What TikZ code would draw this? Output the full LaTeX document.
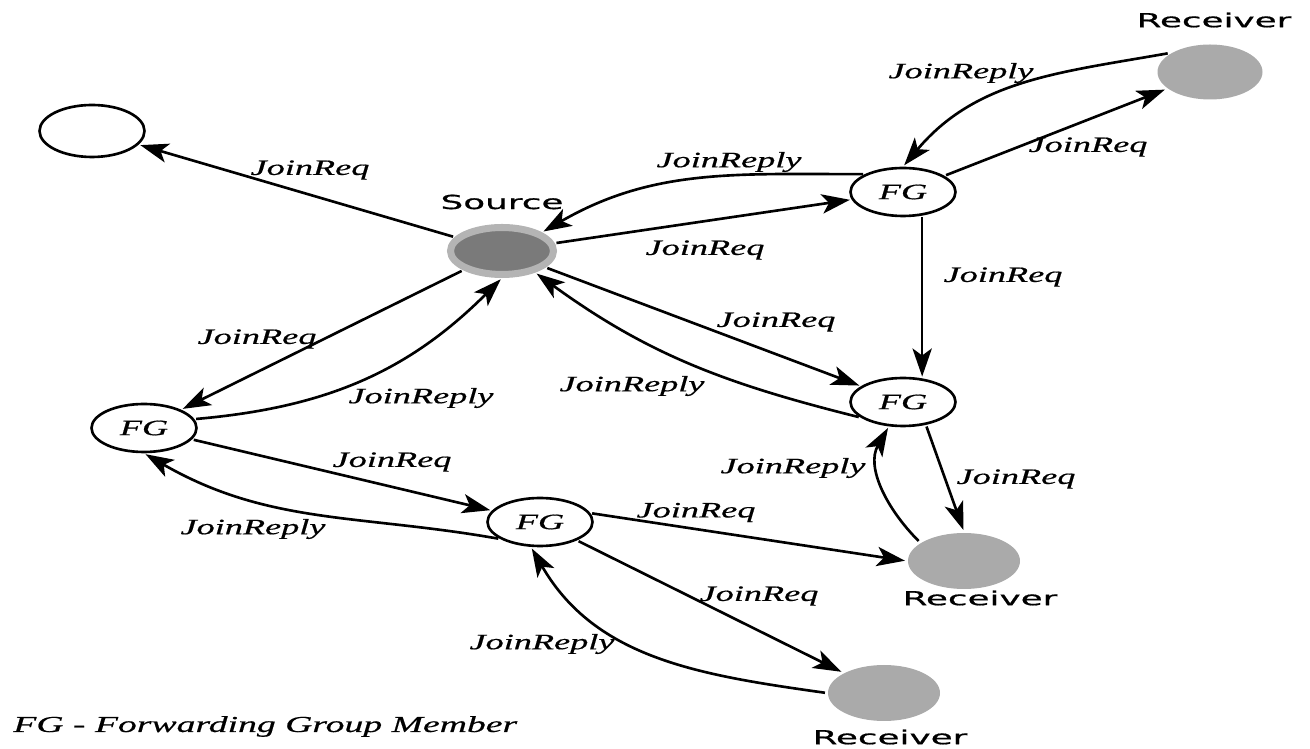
\documentclass[tikz,border=0pt]{standalone}
\usepackage{fontspec}
\setmainfont{Liberation Serif}
\newfontfamily\msgfont{Liberation Serif Italic}[FakeStretch=1.65, FakeBold=0.6]
\newfontfamily\capfont{DejaVu Sans}[FakeStretch=1.85, FakeBold=0.8]
\usetikzlibrary{arrows.meta,positioning,shapes.geometric}
\definecolor{recvgray}{RGB}{170,170,170}
\definecolor{srcring}{RGB}{180,180,180}
\definecolor{srcfill}{RGB}{122,122,122}
\tikzset{
	->, % makes the edges directed
	shorten >=1pt,
	shorten <=1pt,
	>={Stealth[length=16pt,width=11pt,inset=4pt]}, % bold arrow heads
	on grid,
	member/.style={ellipse, draw, fill=white, minimum width=2.1cm, minimum height=0.96cm, inner sep=0pt, font=\msgfont\fontsize{12.5}{14}\selectfont},
	source/.style={ellipse, draw=srcring, line width=4pt, fill=srcfill, minimum width=2.06cm, minimum height=0.94cm},
	receiver/.style={ellipse, fill=recvgray, minimum width=2.1cm, minimum height=1.1cm},
	msg/.style={font=\msgfont\fontsize{12.5}{14}\selectfont, inner sep=0pt},
	caption/.style={font=\capfont\fontsize{11}{13}\selectfont, inner sep=0pt},
	legend/.style={font=\msgfont\fontsize{13}{15}\selectfont, inner sep=0pt},
}
\begin{document}
\begin{tikzpicture}[line width=1.5pt]
      \useasboundingbox (0,0) rectangle (26.2,14.98);

      \node[member, minimum height=1.04cm] (blank) at (1.84,12.36) {};
      \node[source] (src) at (10.04,9.96) {};
      \node[member] (fgA) at (18.06,11.14) {FG};
      \node[receiver] (rcvA) at (24.2,13.54) {};
      \node[member] (fgB) at (18.06,6.94) {FG};
      \node[member] (fgC) at (2.88,6.42) {FG};
      \node[member] (fgD) at (10.8,4.54) {FG};
      \node[receiver, minimum width=2.24cm, minimum height=1.12cm] (rcvB) at (19.28,3.76) {};
      \node[receiver, minimum width=2.24cm, minimum height=1.12cm] (rcvC) at (17.68,1.12) {};

      \node[caption, above=0.98cm of src] (srcname) {Source};
      \node[caption, above=1.04cm of rcvA, xshift=0.08cm] (rcvAname) {Receiver};
      \node[caption, below right=0.74cm and 0.32cm of rcvB] (rcvBname) {Receiver};
      \node[caption, below=0.88cm of rcvC, xshift=0.12cm] (rcvCname) {Receiver};
      \node[legend, anchor=base west] (key) at (0.24,0.34) {FG - Forwarding Group Member};

      % requests and replies
      \draw (src) -- (blank);
      \draw (rcvA.155) to[out=190, in=50] (fgA.north);
      \draw (fgA) -- (rcvA);
      \draw (fgA.155) to[out=180, in=30] (src.25);
      \draw (src) -- (fgA);
      \draw (fgA.-51) -- (fgB.51);
      \draw (src) -- (fgB);
      \draw (fgB.200) to[out=166, in=-36] (src.-33);
      \draw (src) -- (fgC);
      \draw (fgC.10) to[out=5, in=225] (src.south);
      \draw (fgC) -- (fgD);
      \draw (fgD.203) to[out=170, in=-30] (fgC.south);
      \draw (fgD.10) -- (rcvB.west);
      \draw (fgD) -- (rcvC);
      \draw (rcvC.west) to[out=172, in=-60] (fgD.250);
      \draw (fgB.-45) -- (rcvB.north);
      \draw (rcvB.157) to[out=135, in=240] (fgB.240);

      \node[msg] (req1) at (6.2,11.58) {JoinReq};
      \node[msg] (rep1) at (19.22,13.52) {JoinReply};
      \node[msg] (req2) at (21.76,12.04) {JoinReq};
      \node[msg] (rep2) at (14.58,11.74) {JoinReply};
      \node[msg] (req3) at (14.1,9.98) {JoinReq};
      \node[msg] (req4) at (20.06,9.44) {JoinReq};
      \node[msg] (req5) at (15.52,8.54) {JoinReq};
      \node[msg] (rep3) at (12.64,7.26) {JoinReply};
      \node[msg] (req6) at (5.14,8.2) {JoinReq};
      \node[msg] (rep4) at (8.42,7.02) {JoinReply};
      \node[msg] (req7) at (7.84,5.74) {JoinReq};
      \node[msg] (rep5) at (5.06,4.4) {JoinReply};
      \node[msg] (rep6) at (15.86,5.62) {JoinReply};
      \node[msg] (req8) at (20.32,5.4) {JoinReq};
      \node[msg] (req9) at (13.92,4.73) {JoinReq};
      \node[msg] (req10) at (15.18,3.06) {JoinReq};
      \node[msg] (rep7) at (10.84,2.1) {JoinReply};
    \end{tikzpicture}
\end{document}
